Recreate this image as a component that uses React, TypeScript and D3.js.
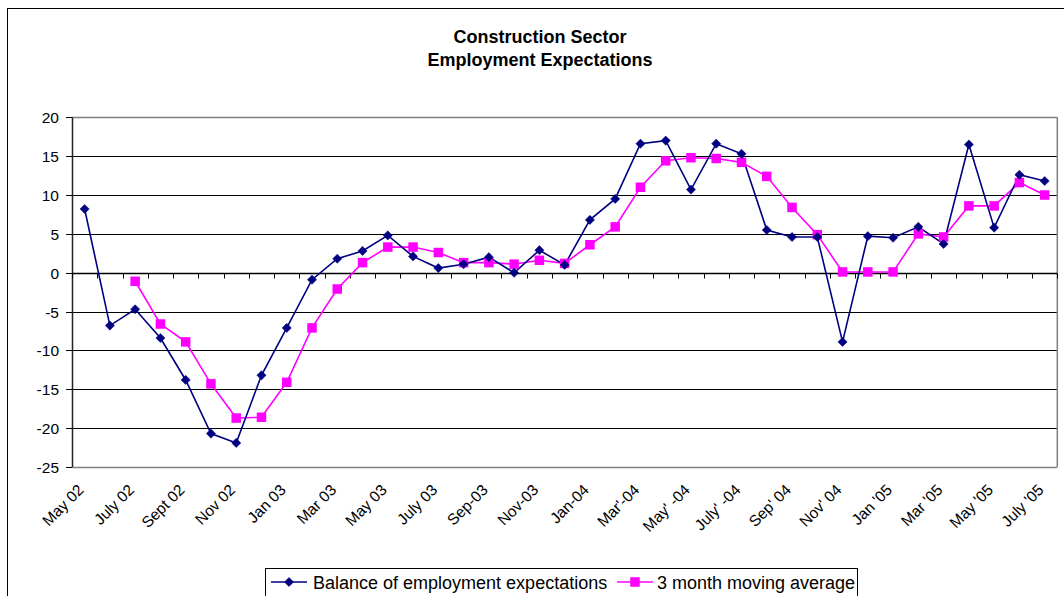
import React from "react";
import * as d3 from "d3";

const months = [
  "May 02","Jun 02","July 02","Aug 02","Sept 02","Oct 02","Nov 02","Dec 02",
  "Jan 03","Feb 03","Mar 03","Apr 03","May 03","Jun 03","July 03","Aug 03",
  "Sep-03","Oct-03","Nov-03","Dec-03","Jan-04","Feb-04","Mar'-04","Apr-04",
  "May' -04","Jun-04","July' -04","Aug-04","Sep' 04","Oct-04","Nov' 04","Dec-04",
  "Jan '05","Feb '05","Mar '05","Apr '05","May '05","Jun '05","July '05",
];

const balance: (number | null)[] = [
  8.2, -6.8, -4.7, -8.4, -13.8, -20.7, -21.9, -13.2,
  -7.1, -0.9, 1.8, 2.8, 4.8, 2.1, 0.6, 1.1,
  2.0, 0.0, 2.9, 1.0, 6.8, 9.5, 16.6, 17.0,
  10.7, 16.6, 15.3, 5.5, 4.6, 4.6, -8.9, 4.7,
  4.5, 5.9, 3.7, 16.5, 5.8, 12.6, 11.8,
];

const movingAvg: (number | null)[] = [
  null, null, -1.1, -6.6, -8.9, -14.3, -18.7, -18.6,
  -14.1, -7.1, -2.1, 1.3, 3.3, 3.3, 2.6, 1.3,
  1.3, 1.1, 1.6, 1.2, 3.6, 5.9, 11.0, 14.4,
  14.8, 14.7, 14.2, 12.4, 8.4, 4.9, 0.1, 0.1,
  0.1, 5.0, 4.6, 8.6, 8.6, 11.6, 10.0,
];

const yTicks = [20, 15, 10, 5, 0, -5, -10, -15, -20, -25];

const seriesNames = ["Balance of employment expectations", "3 month moving average"];

const W = 1064;
const H = 596;
const left = 72;
const right = 1057.3;
const top = 117.3;
const bottom = 467;

const NAVY = "#000080";
const MAGENTA = "#FF00FF";
const FONT = "'Liberation Sans', Arial, sans-serif";

function Diamond({ x, y, r = 4.6 }: { x: number; y: number; r?: number }) {
  return (
    <path
      d={`M${x},${y - r}L${x + r},${y}L${x},${y + r}L${x - r},${y}Z`}
      fill={NAVY}
      stroke={NAVY}
      strokeWidth={0.5}
    />
  );
}

function Square({ x, y, s = 9.5 }: { x: number; y: number; s?: number }) {
  return <rect x={x - s / 2} y={y - s / 2} width={s} height={s} fill={MAGENTA} />;
}

export default function App() {
  const x = d3.scaleBand<number>().domain(d3.range(months.length)).range([left, right]).padding(0);
  const cx = (i: number) => (x(i) as number) + x.bandwidth() / 2;
  const y = d3.scaleLinear().domain([-25, 20]).range([bottom, top]);

  const line = d3
    .line<number | null>()
    .defined((d) => d !== null)
    .x((_, i) => cx(i))
    .y((d) => y(d as number));

  const zeroY = Math.round(y(0)) + 0.5;

  return (
    <svg
      width={W}
      height={H}
      style={{ position: "absolute", left: 0, top: 0, fontFamily: FONT }}
    >
      <rect x={0} y={0} width={W} height={H} fill="#fff" />
      <rect x={7.5} y={8.5} width={1080} height={620} fill="none" stroke="#000" strokeWidth={1} />

      <text x={540} y={43} textAnchor="middle" fontSize={18} fontWeight="bold">
        Construction Sector
      </text>
      <text x={540} y={66} textAnchor="middle" fontSize={18} fontWeight="bold">
        Employment Expectations
      </text>

      {/* gridlines */}
      {yTicks.map((t) => {
        const yy = Math.round(y(t)) + 0.5;
        const edge = t === 20 || t === -25;
        return (
          <line
            key={t}
            x1={left}
            x2={right}
            y1={yy}
            y2={yy}
            stroke={edge ? "#808080" : "#000"}
            strokeWidth={edge ? 1.5 : 1}
          />
        );
      })}
      {/* plot right border */}
      <line x1={right} x2={right} y1={top} y2={bottom} stroke="#808080" strokeWidth={1.5} />

      {/* y axis */}
      <line x1={left + 0.5} x2={left + 0.5} y1={top} y2={bottom} stroke="#222" strokeWidth={1.5} />
      {yTicks.map((t) => {
        const yy = Math.round(y(t)) + 0.5;
        return (
          <g key={"yt" + t}>
            <line x1={left - 6} x2={left} y1={yy} y2={yy} stroke="#000" />
            <text x={left - 13} y={yy + 5} textAnchor="end" fontSize={15.5}>
              {t}
            </text>
          </g>
        );
      })}

      {/* x axis at zero */}
      <line x1={left} x2={right} y1={zeroY} y2={zeroY} stroke="#000" strokeWidth={1.5} />
      {d3.range(months.length + 1).map((i) => {
        const xx = Math.round(i < months.length ? (x(i) as number) : right) + 0.5;
        return <line key={"xt" + i} x1={xx} x2={xx} y1={zeroY} y2={zeroY + 5} stroke="#000" />;
      })}

      {/* x labels */}
      {months.map((m, i) =>
        i % 2 === 0 ? (
          <text
            key={"xl" + i}
            transform={`translate(${cx(i)},${491}) rotate(-45)`}
            textAnchor="end"
            fontSize={15.5}
          >
            {m}
          </text>
        ) : null
      )}

      {/* series */}
      <path d={line(movingAvg) || ""} fill="none" stroke={MAGENTA} strokeWidth={1.6} />
      <path d={line(balance) || ""} fill="none" stroke={NAVY} strokeWidth={1.6} />
      {movingAvg.map((v, i) => (v === null ? null : <Square key={"s" + i} x={cx(i)} y={y(v)} />))}
      {balance.map((v, i) => (v === null ? null : <Diamond key={"d" + i} x={cx(i)} y={y(v)} />))}

      {/* legend */}
      <rect x={265.5} y={568.5} width={592} height={40} fill="#fff" stroke="#000" strokeWidth={1} />
      <line x1={271} x2={307} y1={582} y2={582} stroke={NAVY} strokeWidth={1.6} />
      <Diamond x={289} y={582} />
      <text x={313} y={589} fontSize={18}>
        {seriesNames[0]}
      </text>
      <line x1={617} x2={653} y1={582} y2={582} stroke={MAGENTA} strokeWidth={1.6} />
      <Square x={635} y={582} />
      <text x={657} y={589} fontSize={18}>
        {seriesNames[1]}
      </text>
    </svg>
  );
}
